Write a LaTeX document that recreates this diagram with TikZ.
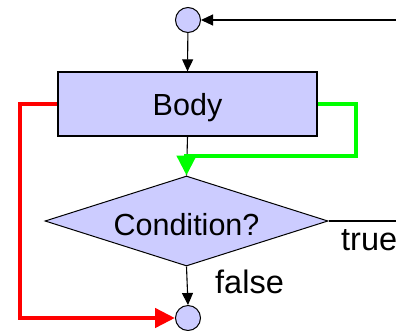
\documentclass[tikz,border=0pt]{standalone}
\usepackage{fontspec}
\setmainfont{Liberation Sans}
\usetikzlibrary{shapes.geometric,arrows.meta}
\definecolor{lav}{HTML}{CCCCFF}
\begin{document}
\begin{tikzpicture}[x=1pt,y=-1pt,
  junction/.style={circle,draw,fill=lav,minimum size=25pt,inner sep=0pt,line width=1pt},
  proc/.style={rectangle,draw,fill=lav,minimum width=259pt,minimum height=64pt,line width=1.3pt,font=\fontsize{30.5}{36}\selectfont,text depth=0pt},
  decision/.style={diamond,draw,fill=lav,minimum width=283pt,minimum height=90pt,aspect=3.14,inner sep=0pt,line width=1pt,font=\fontsize{30.5}{36}\selectfont,text height=28pt,text depth=0pt},
  lbl/.style={font=\fontsize{32.5}{38}\selectfont,inner sep=0pt},
  arr/.style={-{Triangle[length=12pt,width=11pt]},line width=1.1pt},
  thick arr/.style={-{Triangle[length=20pt,width=19pt]},line width=4.5pt}
]
\useasboundingbox (0,0) rectangle (396,330);
\node[junction] (top) at (188,20) {};
\node[proc] (body) at (187.5,104) {Body};
\node[decision] (cond) at (186.5,221) {Condition?};
\node[junction] (bot) at (188,318) {};
\coordinate (inR) at (396,20);
\coordinate (trueR) at (396,221);
\coordinate (redC) at (20,318);
\coordinate (greenC) at (356,156);
\draw[arr] (inR) -- (top.east);
\draw[arr] (top) -- (body.north);
\draw[line width=1.1pt] (body.south) -- (cond.north);
\draw[thick arr,color={rgb,255:red,255;green,0;blue,0}] (body.west) -| (redC) -- (bot.west);
\draw[thick arr,color={rgb,255:red,0;green,255;blue,0}] (body.east) -| (greenC) -| (cond.north);
\draw[line width=1.1pt] (cond.east) -- (trueR);
\draw[arr] (cond.south) -- (bot.north);
\node[lbl,anchor=west] (tlab) at (341,240.5) {true};
\node[lbl,anchor=west] (flab) at (215,281.5) {false};
\end{tikzpicture}
\end{document}
